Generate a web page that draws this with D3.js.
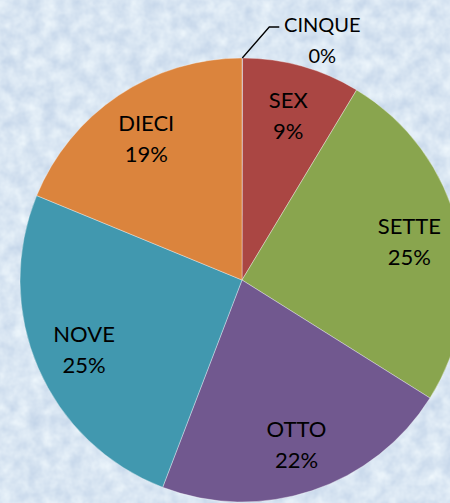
<!DOCTYPE html>
<html>
<head>
<meta charset="utf-8">
<script src="https://cdn.jsdelivr.net/npm/d3@7"></script>
<style>
  html, body { margin: 0; padding: 0; overflow: hidden; }
  svg { display: block; }
</style>
</head>
<body>
<div id="chart"></div>
<script>
// Slice names, clockwise from 12 o'clock
const categories = ["CINQUE", "SEX", "SETTE", "OTTO", "NOVE", "DIECI"];
// Values (shares of the whole)
const values = [0.04, 8.6, 25.3, 21.9, 25.4, 18.8];
const sliceColors = ["#4572A7", "#AA4643", "#89A54E", "#71588F", "#4198AF", "#DB843D"];

const width = 450, height = 503;
const cx = 242, cy = 280, radius = 222;

const svg = d3.select("#chart").append("svg")
    .attr("xmlns", "http://www.w3.org/2000/svg")
    .attr("width", width)
    .attr("height", height);

// textured light blue background
const defs = svg.append("defs");
const tex = defs.append("filter").attr("id", "tex")
    .attr("x", 0).attr("y", 0).attr("width", "100%").attr("height", "100%")
    .attr("color-interpolation-filters", "sRGB");
tex.append("feTurbulence").attr("type", "fractalNoise")
    .attr("baseFrequency", 0.07).attr("numOctaves", 3).attr("seed", 4);
tex.append("feColorMatrix").attr("type", "matrix")
    .attr("values", "0.20 0 0 0 0.75  0.16 0 0 0 0.82  0.09 0 0 0 0.905  0 0 0 0 1");

svg.append("rect")
    .attr("width", width).attr("height", height)
    .attr("fill", "#dbe7f3")
    .attr("filter", "url(#tex)");

const total = d3.sum(values);
const pie = d3.pie().sort(null).value(d => d)(values);
const arc = d3.arc().innerRadius(0).outerRadius(radius);
const labelArc = d3.arc().innerRadius(radius * 0.775).outerRadius(radius * 0.775);

const g = svg.append("g").attr("transform", `translate(${cx},${cy})`);

g.selectAll("path.slice")
    .data(pie)
    .join("path")
    .attr("class", "slice")
    .attr("d", arc)
    .attr("fill", (d, i) => sliceColors[i])
    .attr("stroke", "rgba(255,255,255,0.5)")
    .attr("stroke-width", 0.7);

const font = "Lato, 'Open Sans', sans-serif";
const pct = v => Math.round(v / total * 100) + "%";

// inside labels for the real slices
pie.forEach((d, i) => {
    if (values[i] / total < 0.02) return;
    const [x, y] = labelArc.centroid(d);
    const t = g.append("text")
        .attr("text-anchor", "middle")
        .attr("font-family", font)
        .attr("font-size", 22)
        .attr("fill", "#000");
    t.append("tspan").attr("x", x).attr("y", y - 6).text(categories[i]);
    t.append("tspan").attr("x", x).attr("y", y + 25).text(pct(values[i]));
});

// the tiny slice gets a leader line and an outside label
pie.forEach((d, i) => {
    if (values[i] / total >= 0.02) return;
    const a = (d.startAngle + d.endAngle) / 2;
    const p0 = [Math.sin(a) * radius, -Math.cos(a) * radius];
    const p1 = [p0[0] + 27, p0[1] - 31];
    const p2 = [p1[0] + 10, p1[1]];
    g.append("polyline")
        .attr("points", [p0, p1, p2].map(p => p.join(",")).join(" "))
        .attr("fill", "none")
        .attr("stroke", "#000")
        .attr("stroke-width", 1.3);
    const tx = p2[0] + 43;
    const t = g.append("text")
        .attr("text-anchor", "middle")
        .attr("font-family", font)
        .attr("font-size", 20)
        .attr("fill", "#000");
    t.append("tspan").attr("x", tx).attr("y", p1[1] + 5).text(categories[i]);
    t.append("tspan").attr("x", tx).attr("y", p1[1] + 36).text(pct(values[i]));
});
</script>
</body>
</html>
